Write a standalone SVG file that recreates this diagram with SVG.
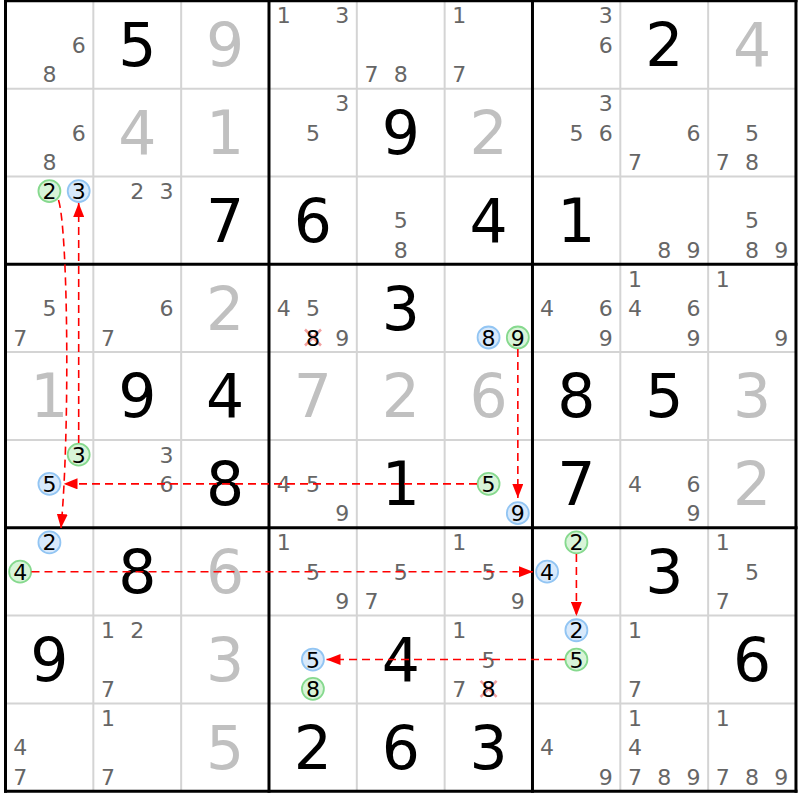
<svg xmlns="http://www.w3.org/2000/svg" width="800" height="800" viewBox="0 0 800 800">
<style>
text{font-family:"DejaVu Sans","Liberation Sans",sans-serif;text-anchor:middle}
.c{font-size:22px;fill:#666}
.h{font-size:22px;fill:#000}
.b{font-size:60px;fill:#000}
.g{font-size:60px;fill:#c0c0c0}
.thin{stroke:#d4d4d4;stroke-width:2}
.thick{stroke:#000;stroke-width:3}
.cg{fill:#d8f4d8;stroke:#86d98e;stroke-width:1.8}
.cb{fill:#d8e9fb;stroke:#92c5f3;stroke-width:1.8}
.x{stroke:#f08a8a;stroke-width:2.5;opacity:0.8}
.a{fill:none;stroke:#ff0000;stroke-width:1.6;stroke-dasharray:8 5;marker-end:url(#ah)}
</style>
<defs>
<marker id="ah" viewBox="0 0 14 11" refX="14" refY="5.5" markerWidth="14" markerHeight="11" markerUnits="userSpaceOnUse" orient="auto">
<path d="M0,0 L14,5.5 L0,11 Z" fill="#ff0000"/>
</marker>
</defs>
<rect x="0" y="0" width="800" height="800" fill="#fff"/>
<g id="grid">
<line class="thin" x1="93.33" y1="0" x2="93.33" y2="791.27"/>
<line class="thin" x1="181.16" y1="0" x2="181.16" y2="791.27"/>
<line class="thin" x1="356.82" y1="0" x2="356.82" y2="791.27"/>
<line class="thin" x1="444.65" y1="0" x2="444.65" y2="791.27"/>
<line class="thin" x1="620.31" y1="0" x2="620.31" y2="791.27"/>
<line class="thin" x1="708.14" y1="0" x2="708.14" y2="791.27"/>
<line class="thin" x1="5.5" y1="88.63" x2="795.97" y2="88.63"/>
<line class="thin" x1="5.5" y1="176.46" x2="795.97" y2="176.46"/>
<line class="thin" x1="5.5" y1="352.12" x2="795.97" y2="352.12"/>
<line class="thin" x1="5.5" y1="439.95" x2="795.97" y2="439.95"/>
<line class="thin" x1="5.5" y1="615.61" x2="795.97" y2="615.61"/>
<line class="thin" x1="5.5" y1="703.44" x2="795.97" y2="703.44"/>
<line class="thick" x1="5.5" y1="0" x2="5.5" y2="792.8"/>
<line class="thick" x1="268.99" y1="0" x2="268.99" y2="792.8"/>
<line class="thick" x1="532.48" y1="0" x2="532.48" y2="792.8"/>
<line class="thick" x1="795.97" y1="0" x2="795.97" y2="792.8"/>
<line class="thick" x1="4" y1="0.8" x2="797.5" y2="0.8"/>
<line class="thick" x1="4" y1="264.29" x2="797.5" y2="264.29"/>
<line class="thick" x1="4" y1="527.78" x2="797.5" y2="527.78"/>
<line class="thick" x1="4" y1="791.27" x2="797.5" y2="791.27"/>
</g>
<!-- row 0 -->
<g id="r0c0"><text class="c" x="78.69" y="52.7">6</text><text class="c" x="49.42" y="82">8</text></g>
<g id="r0c1"><text class="b" x="137.25" y="66">5</text></g>
<g id="r0c2"><text class="g" x="225.08" y="66">9</text></g>
<g id="r0c3"><text class="c" x="283.63" y="23.4">1</text><text class="c" x="342.18" y="23.4">3</text></g>
<g id="r0c4"><text class="c" x="371.46" y="82">7</text><text class="c" x="400.74" y="82">8</text></g>
<g id="r0c5"><text class="c" x="459.29" y="23.4">1</text><text class="c" x="459.29" y="82">7</text></g>
<g id="r0c6"><text class="c" x="605.67" y="23.4">3</text><text class="c" x="605.67" y="52.7">6</text></g>
<g id="r0c7"><text class="b" x="664.23" y="66">2</text></g>
<g id="r0c8"><text class="g" x="752.06" y="66">4</text></g>
<!-- row 1 -->
<g id="r1c0"><text class="c" x="78.69" y="140.6">6</text><text class="c" x="49.42" y="169.8">8</text></g>
<g id="r1c1"><text class="g" x="137.25" y="153.9">4</text></g>
<g id="r1c2"><text class="g" x="225.08" y="153.9">1</text></g>
<g id="r1c3"><text class="c" x="342.18" y="111.3">3</text><text class="c" x="312.91" y="140.6">5</text></g>
<g id="r1c4"><text class="b" x="400.74" y="153.9">9</text></g>
<g id="r1c5"><text class="g" x="488.57" y="153.9">2</text></g>
<g id="r1c6"><text class="c" x="605.67" y="111.3">3</text><text class="c" x="576.4" y="140.6">5</text><text class="c" x="605.67" y="140.6">6</text></g>
<g id="r1c7"><text class="c" x="693.5" y="140.6">6</text><text class="c" x="634.95" y="169.8">7</text></g>
<g id="r1c8"><text class="c" x="752.06" y="140.6">5</text><text class="c" x="722.78" y="169.8">7</text><text class="c" x="752.06" y="169.8">8</text></g>
<!-- row 2 -->
<g id="r2c0"><circle class="cg" cx="49.42" cy="191.1" r="11"/><circle class="cb" cx="78.69" cy="191.1" r="11"/><text class="h" x="49.42" y="199.1">2</text><text class="h" x="78.69" y="199.1">3</text></g>
<g id="r2c1"><text class="c" x="137.25" y="199.1">2</text><text class="c" x="166.52" y="199.1">3</text></g>
<g id="r2c2"><text class="b" x="225.08" y="241.7">7</text></g>
<g id="r2c3"><text class="b" x="312.91" y="241.7">6</text></g>
<g id="r2c4"><text class="c" x="400.74" y="228.4">5</text><text class="c" x="400.74" y="257.7">8</text></g>
<g id="r2c5"><text class="b" x="488.57" y="241.7">4</text></g>
<g id="r2c6"><text class="b" x="576.4" y="241.7">1</text></g>
<g id="r2c7"><text class="c" x="664.23" y="257.7">8</text><text class="c" x="693.5" y="257.7">9</text></g>
<g id="r2c8"><text class="c" x="752.06" y="228.4">5</text><text class="c" x="752.06" y="257.7">8</text><text class="c" x="781.33" y="257.7">9</text></g>
<!-- row 3 -->
<g id="r3c0"><text class="c" x="49.42" y="316.2">5</text><text class="c" x="20.14" y="345.5">7</text></g>
<g id="r3c1"><text class="c" x="166.52" y="316.2">6</text><text class="c" x="107.97" y="345.5">7</text></g>
<g id="r3c2"><text class="g" x="225.08" y="329.5">2</text></g>
<g id="r3c3"><text class="c" x="283.63" y="316.2">4</text><text class="c" x="312.91" y="316.2">5</text><path class="x" d="M305,329.5 L321,345.5 M321,329.5 L305,345.5"/><text class="h" x="312.91" y="345.5">8</text><text class="c" x="342.18" y="345.5">9</text></g>
<g id="r3c4"><text class="b" x="400.74" y="329.5">3</text></g>
<g id="r3c5"><circle class="cb" cx="488.57" cy="337.48" r="11"/><circle class="cg" cx="517.84" cy="337.48" r="11"/><text class="h" x="488.57" y="345.5">8</text><text class="h" x="517.84" y="345.5">9</text></g>
<g id="r3c6"><text class="c" x="547.12" y="316.2">4</text><text class="c" x="605.67" y="316.2">6</text><text class="c" x="605.67" y="345.5">9</text></g>
<g id="r3c7"><text class="c" x="634.95" y="286.9">1</text><text class="c" x="634.95" y="316.2">4</text><text class="c" x="693.5" y="316.2">6</text><text class="c" x="693.5" y="345.5">9</text></g>
<g id="r3c8"><text class="c" x="722.78" y="286.9">1</text><text class="c" x="781.33" y="345.5">9</text></g>
<!-- row 4 -->
<g id="r4c0"><text class="g" x="49.42" y="417.3">1</text></g>
<g id="r4c1"><text class="b" x="137.25" y="417.3">9</text></g>
<g id="r4c2"><text class="b" x="225.08" y="417.3">4</text></g>
<g id="r4c3"><text class="g" x="312.91" y="417.3">7</text></g>
<g id="r4c4"><text class="g" x="400.74" y="417.3">2</text></g>
<g id="r4c5"><text class="g" x="488.57" y="417.3">6</text></g>
<g id="r4c6"><text class="b" x="576.4" y="417.3">8</text></g>
<g id="r4c7"><text class="b" x="664.23" y="417.3">5</text></g>
<g id="r4c8"><text class="g" x="752.06" y="417.3">3</text></g>
<!-- row 5 -->
<g id="r5c0"><circle class="cg" cx="78.69" cy="454.59" r="11"/><circle class="cb" cx="49.42" cy="483.87" r="11"/><text class="h" x="78.69" y="462.6">3</text><text class="h" x="49.42" y="491.9">5</text></g>
<g id="r5c1"><text class="c" x="166.52" y="462.6">3</text><text class="c" x="166.52" y="491.9">6</text></g>
<g id="r5c2"><text class="b" x="225.08" y="505.2">8</text></g>
<g id="r5c3"><text class="c" x="283.63" y="491.9">4</text><text class="c" x="312.91" y="491.9">5</text><text class="c" x="342.18" y="521.1">9</text></g>
<g id="r5c4"><text class="b" x="400.74" y="505.2">1</text></g>
<g id="r5c5"><circle class="cg" cx="488.57" cy="483.87" r="11"/><circle class="cb" cx="517.84" cy="513.14" r="11"/><text class="h" x="488.57" y="491.9">5</text><text class="h" x="517.84" y="521.1">9</text></g>
<g id="r5c6"><text class="b" x="576.4" y="505.2">7</text></g>
<g id="r5c7"><text class="c" x="634.95" y="491.9">4</text><text class="c" x="693.5" y="491.9">6</text><text class="c" x="693.5" y="521.1">9</text></g>
<g id="r5c8"><text class="g" x="752.06" y="505.2">2</text></g>
<!-- row 6 -->
<g id="r6c0"><circle class="cb" cx="49.42" cy="542.42" r="11"/><circle class="cg" cx="20.14" cy="571.7" r="11"/><text class="h" x="49.42" y="550.4">2</text><text class="h" x="20.14" y="579.7">4</text></g>
<g id="r6c1"><text class="b" x="137.25" y="593">8</text></g>
<g id="r6c2"><text class="g" x="225.08" y="593">6</text></g>
<g id="r6c3"><text class="c" x="283.63" y="550.4">1</text><text class="c" x="312.91" y="579.7">5</text><text class="c" x="342.18" y="609">9</text></g>
<g id="r6c4"><text class="c" x="400.74" y="579.7">5</text><text class="c" x="371.46" y="609">7</text></g>
<g id="r6c5"><text class="c" x="459.29" y="550.4">1</text><text class="c" x="488.57" y="579.7">5</text><text class="c" x="517.84" y="609">9</text></g>
<g id="r6c6"><circle class="cg" cx="576.4" cy="542.42" r="11"/><circle class="cb" cx="547.12" cy="571.7" r="11"/><text class="h" x="576.4" y="550.4">2</text><text class="h" x="547.12" y="579.7">4</text></g>
<g id="r6c7"><text class="b" x="664.23" y="593">3</text></g>
<g id="r6c8"><text class="c" x="722.78" y="550.4">1</text><text class="c" x="752.06" y="579.7">5</text><text class="c" x="722.78" y="609">7</text></g>
<!-- row 7 -->
<g id="r7c0"><text class="b" x="49.42" y="680.8">9</text></g>
<g id="r7c1"><text class="c" x="107.97" y="638.3">1</text><text class="c" x="137.25" y="638.3">2</text><text class="c" x="107.97" y="696.8">7</text></g>
<g id="r7c2"><text class="g" x="225.08" y="680.8">3</text></g>
<g id="r7c3"><circle class="cb" cx="312.91" cy="659.53" r="11"/><circle class="cg" cx="312.91" cy="688.8" r="11"/><text class="h" x="312.91" y="667.5">5</text><text class="h" x="312.91" y="696.8">8</text></g>
<g id="r7c4"><text class="b" x="400.74" y="680.8">4</text></g>
<g id="r7c5"><text class="c" x="459.29" y="638.3">1</text><text class="c" x="488.57" y="667.5">5</text><text class="c" x="459.29" y="696.8">7</text><path class="x" d="M480.6,680.8 L496.6,696.8 M496.6,680.8 L480.6,696.8"/><text class="h" x="488.57" y="696.8">8</text></g>
<g id="r7c6"><circle class="cb" cx="576.4" cy="630.25" r="11"/><circle class="cg" cx="576.4" cy="659.53" r="11"/><text class="h" x="576.4" y="638.3">2</text><text class="h" x="576.4" y="667.5">5</text></g>
<g id="r7c7"><text class="c" x="634.95" y="638.3">1</text><text class="c" x="634.95" y="696.8">7</text></g>
<g id="r7c8"><text class="b" x="752.06" y="680.8">6</text></g>
<!-- row 8 -->
<g id="r8c0"><text class="c" x="20.14" y="755.4">4</text><text class="c" x="20.14" y="784.6">7</text></g>
<g id="r8c1"><text class="c" x="107.97" y="726.1">1</text><text class="c" x="107.97" y="784.6">7</text></g>
<g id="r8c2"><text class="g" x="225.08" y="768.7">5</text></g>
<g id="r8c3"><text class="b" x="312.91" y="768.7">2</text></g>
<g id="r8c4"><text class="b" x="400.74" y="768.7">6</text></g>
<g id="r8c5"><text class="b" x="488.57" y="768.7">3</text></g>
<g id="r8c6"><text class="c" x="547.12" y="755.4">4</text><text class="c" x="605.67" y="784.6">9</text></g>
<g id="r8c7"><text class="c" x="634.95" y="726.1">1</text><text class="c" x="634.95" y="755.4">4</text><text class="c" x="634.95" y="784.6">7</text><text class="c" x="664.23" y="784.6">8</text><text class="c" x="693.5" y="784.6">9</text></g>
<g id="r8c8"><text class="c" x="722.78" y="726.1">1</text><text class="c" x="722.78" y="784.6">7</text><text class="c" x="752.06" y="784.6">8</text><text class="c" x="781.33" y="784.6">9</text></g>
<g id="connectors">
<path class="a" d="M517.84,349 L517.84,498"/>
<path class="a" d="M477,483.87 L63.5,483.87"/>
<path class="a" d="M78.69,443 L78.69,203"/>
<path class="a" d="M58.5,200 C68,230 70,430 61,528"/>
<path class="a" d="M31.5,571.7 L533,571.7"/>
<path class="a" d="M576.4,554 L576.4,616"/>
<path class="a" d="M565,659.53 L326.5,659.53"/>
</g>
</svg>
